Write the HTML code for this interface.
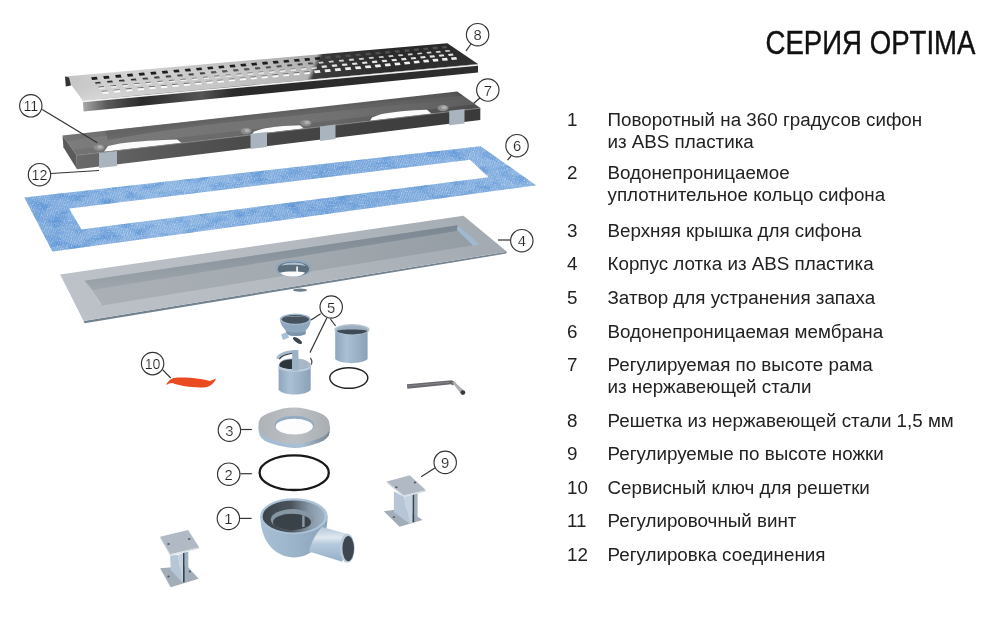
<!DOCTYPE html>
<html><head><meta charset="utf-8"><style>
html,body{margin:0;padding:0;background:#fff;width:1000px;height:625px;overflow:hidden}
svg{display:block;font-family:"Liberation Sans",sans-serif;will-change:transform}
</style></head><body>
<svg width="1000" height="625" viewBox="0 0 1000 625">
<rect width="1000" height="625" fill="#fff"/>
<defs>
<linearGradient id="gTop" x1="65" y1="0" x2="478" y2="0" gradientUnits="userSpaceOnUse" gradientTransform="translate(25.6,0) skewX(-23)">
 <stop offset="0" stop-color="#c4c4c4"/><stop offset="0.12" stop-color="#d4d4d4"/><stop offset="0.4" stop-color="#cacaca"/><stop offset="0.605" stop-color="#b8b8b8"/>
 <stop offset="0.618" stop-color="#3c3c3c"/><stop offset="0.8" stop-color="#2c2c2c"/><stop offset="1" stop-color="#333"/></linearGradient>
<linearGradient id="gTopV" x1="0" y1="45" x2="0" y2="100" gradientUnits="userSpaceOnUse">
 <stop offset="0" stop-color="#000" stop-opacity="0.12"/><stop offset="0.5" stop-color="#000" stop-opacity="0"/><stop offset="1" stop-color="#fff" stop-opacity="0.1"/></linearGradient>
<linearGradient id="gLip" x1="83" y1="0" x2="478" y2="0" gradientUnits="userSpaceOnUse">
 <stop offset="0" stop-color="#a8a8a8"/><stop offset="0.06" stop-color="#5a5a5a"/><stop offset="0.15" stop-color="#2a2a2a"/><stop offset="0.3" stop-color="#555"/><stop offset="0.38" stop-color="#2a2a2a"/><stop offset="1" stop-color="#2e2e2e"/></linearGradient>
<linearGradient id="gLipV" x1="0" y1="64" x2="0" y2="112" gradientUnits="userSpaceOnUse">
 <stop offset="0" stop-color="#fff" stop-opacity="0"/><stop offset="1" stop-color="#fff" stop-opacity="0.15"/></linearGradient>
<pattern id="pTex" width="2.2" height="2.2" patternUnits="userSpaceOnUse" patternTransform="rotate(20)">
 <rect width="2.2" height="2.2" fill="#9bc0e8"/><rect width="1" height="2.2" fill="#79a7da"/></pattern>
<linearGradient id="gMemOv" x1="24" y1="0" x2="536" y2="0" gradientUnits="userSpaceOnUse">
 <stop offset="0" stop-color="#5f8fd0" stop-opacity="0.25"/><stop offset="0.3" stop-color="#a9c6ea" stop-opacity="0.15"/><stop offset="0.6" stop-color="#5a8bcf" stop-opacity="0.25"/><stop offset="1" stop-color="#9dbde6" stop-opacity="0.2"/></linearGradient>
<linearGradient id="gFr" x1="62" y1="0" x2="480" y2="0" gradientUnits="userSpaceOnUse">
 <stop offset="0" stop-color="#747474"/><stop offset="0.3" stop-color="#6c6c6c"/><stop offset="0.65" stop-color="#666"/><stop offset="0.85" stop-color="#575757"/><stop offset="1" stop-color="#4c4c4c"/></linearGradient>
<linearGradient id="gFf" x1="77" y1="0" x2="480" y2="0" gradientUnits="userSpaceOnUse">
 <stop offset="0" stop-color="#6a6a6a"/><stop offset="0.25" stop-color="#555"/><stop offset="0.5" stop-color="#464646"/><stop offset="1" stop-color="#3a3a3a"/></linearGradient>
<linearGradient id="gBowl" x1="260" y1="0" x2="327" y2="0" gradientUnits="userSpaceOnUse">
 <stop offset="0" stop-color="#a9c0d6"/><stop offset="0.5" stop-color="#9bb4ca"/><stop offset="1" stop-color="#8aa3ba"/></linearGradient>
<linearGradient id="gPipe" x1="0" y1="527" x2="0" y2="562" gradientUnits="userSpaceOnUse">
 <stop offset="0" stop-color="#b3c7d9"/><stop offset="0.3" stop-color="#dfe8ef"/><stop offset="0.5" stop-color="#b4c9dc"/><stop offset="1" stop-color="#95afc6"/></linearGradient>
<linearGradient id="gCup" x1="0" y1="0" x2="1" y2="0">
 <stop offset="0" stop-color="#8ea7bd"/><stop offset="0.35" stop-color="#aac0d4"/><stop offset="1" stop-color="#8aa2b8"/></linearGradient>
<linearGradient id="gBack" x1="0" y1="0" x2="0.08" y2="1">
 <stop offset="0" stop-color="#76838f"/><stop offset="1" stop-color="#a0a7ad"/></linearGradient>
<filter id="fMem" x="0" y="0" width="1" height="1" color-interpolation-filters="sRGB">
 <feTurbulence type="fractalNoise" baseFrequency="0.06 0.12" numOctaves="3" seed="7" result="n"/>
 <feColorMatrix in="n" type="matrix" values="0 0 0 0 0  0 0 0 0 0  0 0 0 0 0  1.9 0 0 0 -0.85" result="a"/>
 <feComposite in="SourceGraphic" in2="a" operator="in"/>
</filter>
<filter id="fMem2" x="0" y="0" width="1" height="1" color-interpolation-filters="sRGB">
 <feTurbulence type="fractalNoise" baseFrequency="0.7" numOctaves="1" seed="3" result="n"/>
 <feColorMatrix in="n" type="matrix" values="0 0 0 0 0  0 0 0 0 0  0 0 0 0 0  2.4 0 0 0 -1.25" result="a"/>
 <feComposite in="SourceGraphic" in2="a" operator="in"/>
</filter>
<linearGradient id="gRim" x1="60" y1="0" x2="507" y2="0" gradientUnits="userSpaceOnUse">
 <stop offset="0" stop-color="#bcc2c7"/><stop offset="0.5" stop-color="#b4bac0"/><stop offset="1" stop-color="#a2a9b0"/></linearGradient>
<linearGradient id="gFloor" x1="85" y1="0" x2="480" y2="0" gradientUnits="userSpaceOnUse">
 <stop offset="0" stop-color="#aab0b5"/><stop offset="0.5" stop-color="#a3aab0"/><stop offset="1" stop-color="#959da4"/></linearGradient>
<linearGradient id="gRingSide" x1="258" y1="0" x2="331" y2="0" gradientUnits="userSpaceOnUse">
 <stop offset="0" stop-color="#a3bcd3"/><stop offset="0.6" stop-color="#a9bfd3"/><stop offset="1" stop-color="#75828e"/></linearGradient>
<linearGradient id="gRingTop" x1="258" y1="0" x2="331" y2="0" gradientUnits="userSpaceOnUse">
 <stop offset="0" stop-color="#aeb3b8"/><stop offset="0.5" stop-color="#bcc0c4"/><stop offset="1" stop-color="#a9aeb3"/></linearGradient>
<linearGradient id="gSiphIn" x1="263" y1="0" x2="325" y2="0" gradientUnits="userSpaceOnUse">
 <stop offset="0" stop-color="#3c444c"/><stop offset="0.45" stop-color="#4a535c"/><stop offset="0.75" stop-color="#8797a6"/><stop offset="1" stop-color="#9fb3c5"/></linearGradient>
</defs>
<polygon points="65.0,76.4 447.3,43.2 478.0,64.0 82.8,100.4" fill="url(#gTop)"/>
<polygon points="65.0,76.4 447.3,43.2 478.0,64.0 82.8,100.4" fill="url(#gTopV)"/>
<polygon points="82.8,100.4 478.0,64.0 478.0,72.5 83.6,111.6" fill="url(#gLip)"/>
<line x1="82.8" y1="101.4" x2="478" y2="65" stroke="#f2f2f2" stroke-width="1.6"/>
<polygon points="65.0,76.4 65.8,86.5 71.0,85.6 69.0,77.5" fill="#333"/>
<polygon points="91.2,77.2 96.8,76.7 97.7,79.5 92.1,80.0" fill="#1e1e1e"/>
<polygon points="95.0,82.2 100.1,81.7 101.0,83.7 95.9,84.2" fill="#2e2e2e"/>
<polygon points="95.6,83.5 100.8,83.0 101.0,83.7 95.9,84.2" fill="#9a9a9a"/>
<polygon points="98.3,86.5 103.9,86.1 104.8,88.5 99.2,88.9" fill="#f0f0f0"/>
<polygon points="98.3,86.5 103.9,86.1 104.2,87.0 98.6,87.4" fill="#666"/>
<polygon points="101.6,90.8 107.8,90.4 108.7,93.4 102.5,93.8" fill="#fafafa"/>
<polygon points="101.6,90.8 107.8,90.4 108.0,91.3 101.9,91.7" fill="#666"/>
<polygon points="103.2,76.1 108.8,75.7 109.7,78.4 104.1,78.9" fill="#1e1e1e"/>
<polygon points="106.9,81.1 112.1,80.6 113.0,82.6 107.8,83.1" fill="#2e2e2e"/>
<polygon points="107.5,82.4 112.7,81.9 113.0,82.6 107.8,83.1" fill="#9a9a9a"/>
<polygon points="110.3,85.4 115.8,85.0 116.7,87.4 111.2,87.8" fill="#f0f0f0"/>
<polygon points="110.3,85.4 115.8,85.0 116.1,85.9 110.6,86.3" fill="#666"/>
<polygon points="113.5,89.7 119.7,89.2 120.6,92.2 114.4,92.7" fill="#fafafa"/>
<polygon points="113.5,89.7 119.7,89.2 120.0,90.1 113.8,90.6" fill="#666"/>
<polygon points="115.1,75.1 120.6,74.6 121.5,77.4 116.0,77.8" fill="#1e1e1e"/>
<polygon points="118.8,80.0 124.0,79.5 124.9,81.5 119.7,82.0" fill="#2e2e2e"/>
<polygon points="119.4,81.3 124.6,80.8 124.9,81.5 119.7,82.0" fill="#9a9a9a"/>
<polygon points="122.1,84.3 127.7,83.9 128.6,86.3 123.0,86.7" fill="#f0f0f0"/>
<polygon points="122.1,84.3 127.7,83.9 128.0,84.8 122.4,85.2" fill="#666"/>
<polygon points="125.4,88.6 131.5,88.1 132.4,91.1 126.3,91.5" fill="#fafafa"/>
<polygon points="125.4,88.6 131.5,88.1 131.8,89.0 125.7,89.5" fill="#666"/>
<polygon points="126.9,74.0 132.4,73.6 133.3,76.3 127.8,76.8" fill="#1e1e1e"/>
<polygon points="130.6,78.9 135.7,78.5 136.6,80.4 131.5,80.9" fill="#2e2e2e"/>
<polygon points="131.2,80.2 136.3,79.7 136.6,80.4 131.5,80.9" fill="#9a9a9a"/>
<polygon points="133.9,83.2 139.5,82.8 140.4,85.1 134.8,85.6" fill="#f0f0f0"/>
<polygon points="133.9,83.2 139.5,82.8 139.8,83.7 134.2,84.1" fill="#666"/>
<polygon points="137.2,87.4 143.3,87.0 144.2,89.9 138.1,90.4" fill="#fafafa"/>
<polygon points="137.2,87.4 143.3,87.0 143.6,87.9 137.5,88.3" fill="#666"/>
<polygon points="138.6,73.0 144.1,72.5 145.0,75.3 139.5,75.7" fill="#1e1e1e"/>
<polygon points="142.3,77.9 147.4,77.4 148.3,79.4 143.2,79.8" fill="#2e2e2e"/>
<polygon points="142.9,79.1 148.0,78.7 148.3,79.4 143.2,79.8" fill="#9a9a9a"/>
<polygon points="145.6,82.1 151.1,81.7 152.0,84.0 146.5,84.5" fill="#f0f0f0"/>
<polygon points="145.6,82.1 151.1,81.7 151.4,82.6 145.9,83.0" fill="#666"/>
<polygon points="148.8,86.3 154.9,85.9 155.8,88.8 149.7,89.3" fill="#fafafa"/>
<polygon points="148.8,86.3 154.9,85.9 155.2,86.8 149.1,87.2" fill="#666"/>
<polygon points="150.3,72.0 155.7,71.5 156.6,74.2 151.2,74.7" fill="#1e1e1e"/>
<polygon points="154.0,76.8 159.0,76.3 159.9,78.3 154.9,78.8" fill="#2e2e2e"/>
<polygon points="154.6,78.1 159.6,77.6 159.9,78.3 154.9,78.8" fill="#9a9a9a"/>
<polygon points="157.3,81.1 162.7,80.6 163.6,83.0 158.2,83.4" fill="#f0f0f0"/>
<polygon points="157.3,81.1 162.7,80.6 163.0,81.5 157.6,82.0" fill="#666"/>
<polygon points="160.5,85.2 166.5,84.8 167.4,87.7 161.4,88.2" fill="#fafafa"/>
<polygon points="160.5,85.2 166.5,84.8 166.8,85.7 160.8,86.1" fill="#666"/>
<polygon points="161.8,70.9 167.3,70.5 168.2,73.2 162.7,73.7" fill="#1e1e1e"/>
<polygon points="165.5,75.7 170.6,75.3 171.5,77.2 166.4,77.7" fill="#2e2e2e"/>
<polygon points="166.1,77.0 171.2,76.5 171.5,77.2 166.4,77.7" fill="#9a9a9a"/>
<polygon points="168.8,80.0 174.2,79.5 175.1,81.9 169.7,82.3" fill="#f0f0f0"/>
<polygon points="168.8,80.0 174.2,79.5 174.5,80.4 169.1,80.9" fill="#666"/>
<polygon points="172.0,84.1 178.0,83.7 178.9,86.6 172.9,87.0" fill="#fafafa"/>
<polygon points="172.0,84.1 178.0,83.7 178.3,84.6 172.3,85.0" fill="#666"/>
<polygon points="173.3,69.9 178.7,69.5 179.6,72.2 174.2,72.6" fill="#1e1e1e"/>
<polygon points="177.0,74.7 182.0,74.3 182.9,76.2 177.9,76.6" fill="#2e2e2e"/>
<polygon points="177.6,75.9 182.6,75.5 182.9,76.2 177.9,76.6" fill="#9a9a9a"/>
<polygon points="180.2,78.9 185.7,78.5 186.6,80.8 181.1,81.2" fill="#f0f0f0"/>
<polygon points="180.2,78.9 185.7,78.5 186.0,79.4 180.5,79.8" fill="#666"/>
<polygon points="183.4,83.0 189.4,82.6 190.3,85.5 184.3,85.9" fill="#fafafa"/>
<polygon points="183.4,83.0 189.4,82.6 189.7,83.5 183.7,83.9" fill="#666"/>
<polygon points="184.7,68.9 190.1,68.5 191.0,71.2 185.6,71.6" fill="#1e1e1e"/>
<polygon points="188.3,73.7 193.3,73.2 194.2,75.2 189.2,75.6" fill="#2e2e2e"/>
<polygon points="188.9,74.9 193.9,74.5 194.2,75.2 189.2,75.6" fill="#9a9a9a"/>
<polygon points="191.6,77.9 197.0,77.4 197.9,79.7 192.5,80.2" fill="#f0f0f0"/>
<polygon points="191.6,77.9 197.0,77.4 197.3,78.3 191.9,78.8" fill="#666"/>
<polygon points="194.8,81.9 200.8,81.5 201.7,84.4 195.7,84.8" fill="#fafafa"/>
<polygon points="194.8,81.9 200.8,81.5 201.1,82.4 195.1,82.8" fill="#666"/>
<polygon points="196.0,67.9 201.3,67.5 202.2,70.1 196.9,70.6" fill="#1e1e1e"/>
<polygon points="199.6,72.6 204.6,72.2 205.5,74.1 200.5,74.6" fill="#2e2e2e"/>
<polygon points="200.2,73.9 205.2,73.4 205.5,74.1 200.5,74.6" fill="#9a9a9a"/>
<polygon points="202.9,76.8 208.3,76.4 209.2,78.7 203.8,79.1" fill="#f0f0f0"/>
<polygon points="202.9,76.8 208.3,76.4 208.6,77.3 203.2,77.7" fill="#666"/>
<polygon points="206.1,80.9 212.0,80.4 212.9,83.3 207.0,83.8" fill="#fafafa"/>
<polygon points="206.1,80.9 212.0,80.4 212.3,81.3 206.4,81.8" fill="#666"/>
<polygon points="207.2,66.9 212.5,66.5 213.4,69.1 208.1,69.6" fill="#1e1e1e"/>
<polygon points="210.8,71.6 215.8,71.2 216.7,73.1 211.7,73.5" fill="#2e2e2e"/>
<polygon points="211.4,72.8 216.4,72.4 216.7,73.1 211.7,73.5" fill="#9a9a9a"/>
<polygon points="214.1,75.8 219.4,75.3 220.3,77.6 215.0,78.1" fill="#f0f0f0"/>
<polygon points="214.1,75.8 219.4,75.3 219.7,76.2 214.4,76.7" fill="#666"/>
<polygon points="217.2,79.8 223.2,79.4 224.1,82.2 218.1,82.7" fill="#fafafa"/>
<polygon points="217.2,79.8 223.2,79.4 223.5,80.3 217.5,80.7" fill="#666"/>
<polygon points="218.3,65.9 223.6,65.5 224.5,68.1 219.2,68.6" fill="#1e1e1e"/>
<polygon points="221.9,70.6 226.9,70.2 227.8,72.1 222.8,72.5" fill="#2e2e2e"/>
<polygon points="222.5,71.8 227.5,71.4 227.8,72.1 222.8,72.5" fill="#9a9a9a"/>
<polygon points="225.2,74.7 230.5,74.3 231.4,76.6 226.1,77.0" fill="#f0f0f0"/>
<polygon points="225.2,74.7 230.5,74.3 230.8,75.2 225.5,75.6" fill="#666"/>
<polygon points="228.3,78.7 234.2,78.3 235.1,81.1 229.2,81.6" fill="#fafafa"/>
<polygon points="228.3,78.7 234.2,78.3 234.5,79.2 228.6,79.6" fill="#666"/>
<polygon points="229.4,65.0 234.7,64.5 235.6,67.2 230.3,67.6" fill="#1e1e1e"/>
<polygon points="233.0,69.6 237.9,69.2 238.8,71.1 233.9,71.5" fill="#2e2e2e"/>
<polygon points="233.6,70.8 238.5,70.4 238.8,71.1 233.9,71.5" fill="#9a9a9a"/>
<polygon points="236.2,73.7 241.5,73.3 242.4,75.5 237.1,76.0" fill="#f0f0f0"/>
<polygon points="236.2,73.7 241.5,73.3 241.8,74.2 236.5,74.6" fill="#666"/>
<polygon points="239.3,77.7 245.2,77.2 246.1,80.1 240.2,80.5" fill="#fafafa"/>
<polygon points="239.3,77.7 245.2,77.2 245.5,78.1 239.6,78.6" fill="#666"/>
<polygon points="240.3,64.0 245.6,63.5 246.5,66.2 241.2,66.6" fill="#1e1e1e"/>
<polygon points="243.9,68.6 248.8,68.2 249.7,70.1 244.8,70.5" fill="#2e2e2e"/>
<polygon points="244.5,69.8 249.4,69.4 249.7,70.1 244.8,70.5" fill="#9a9a9a"/>
<polygon points="247.1,72.7 252.4,72.2 253.3,74.5 248.0,74.9" fill="#f0f0f0"/>
<polygon points="247.1,72.7 252.4,72.2 252.7,73.1 247.4,73.6" fill="#666"/>
<polygon points="250.3,76.6 256.1,76.2 257.0,79.0 251.2,79.5" fill="#fafafa"/>
<polygon points="250.3,76.6 256.1,76.2 256.4,77.1 250.6,77.5" fill="#666"/>
<polygon points="251.2,63.0 256.4,62.6 257.3,65.2 252.1,65.7" fill="#1e1e1e"/>
<polygon points="254.8,67.6 259.7,67.2 260.6,69.1 255.7,69.5" fill="#2e2e2e"/>
<polygon points="255.4,68.8 260.3,68.4 260.6,69.1 255.7,69.5" fill="#9a9a9a"/>
<polygon points="258.0,71.7 263.2,71.2 264.1,73.5 258.9,73.9" fill="#f0f0f0"/>
<polygon points="258.0,71.7 263.2,71.2 263.5,72.1 258.3,72.6" fill="#666"/>
<polygon points="261.1,75.6 266.9,75.2 267.8,78.0 262.0,78.4" fill="#fafafa"/>
<polygon points="261.1,75.6 266.9,75.2 267.2,76.1 261.4,76.5" fill="#666"/>
<polygon points="262.0,62.1 267.2,61.6 268.1,64.2 262.9,64.7" fill="#1e1e1e"/>
<polygon points="265.6,66.7 270.4,66.2 271.3,68.1 266.5,68.5" fill="#2e2e2e"/>
<polygon points="266.2,67.8 271.0,67.4 271.3,68.1 266.5,68.5" fill="#9a9a9a"/>
<polygon points="268.8,70.7 274.0,70.2 274.9,72.5 269.7,72.9" fill="#f0f0f0"/>
<polygon points="268.8,70.7 274.0,70.2 274.3,71.1 269.1,71.6" fill="#666"/>
<polygon points="271.9,74.6 277.7,74.1 278.6,76.9 272.8,77.4" fill="#fafafa"/>
<polygon points="271.9,74.6 277.7,74.1 278.0,75.0 272.2,75.5" fill="#666"/>
<polygon points="272.7,61.1 277.9,60.7 278.8,63.3 273.6,63.7" fill="#1e1e1e"/>
<polygon points="276.3,65.7 281.1,65.2 282.0,67.1 277.2,67.5" fill="#2e2e2e"/>
<polygon points="276.9,66.8 281.7,66.4 282.0,67.1 277.2,67.5" fill="#9a9a9a"/>
<polygon points="279.4,69.7 284.6,69.2 285.5,71.4 280.3,71.9" fill="#f0f0f0"/>
<polygon points="279.4,69.7 284.6,69.2 284.9,70.1 279.7,70.6" fill="#666"/>
<polygon points="282.5,73.6 288.3,73.1 289.2,75.9 283.4,76.3" fill="#fafafa"/>
<polygon points="282.5,73.6 288.3,73.1 288.6,74.0 282.8,74.5" fill="#666"/>
<polygon points="283.3,60.2 288.5,59.8 289.4,62.3 284.2,62.8" fill="#1e1e1e"/>
<polygon points="286.9,64.7 291.7,64.3 292.6,66.1 287.8,66.6" fill="#2e2e2e"/>
<polygon points="287.5,65.9 292.3,65.4 292.6,66.1 287.8,66.6" fill="#9a9a9a"/>
<polygon points="290.0,68.7 295.2,68.2 296.1,70.4 290.9,70.9" fill="#f0f0f0"/>
<polygon points="290.0,68.7 295.2,68.2 295.5,69.1 290.3,69.6" fill="#666"/>
<polygon points="293.1,72.5 298.9,72.1 299.8,74.9 294.0,75.3" fill="#fafafa"/>
<polygon points="293.1,72.5 298.9,72.1 299.2,73.0 293.4,73.4" fill="#666"/>
<polygon points="293.8,59.3 299.0,58.8 299.9,61.4 294.7,61.8" fill="#1e1e1e"/>
<polygon points="297.4,63.8 302.2,63.3 303.1,65.1 298.3,65.6" fill="#2e2e2e"/>
<polygon points="298.0,64.9 302.8,64.4 303.1,65.1 298.3,65.6" fill="#9a9a9a"/>
<polygon points="300.6,67.7 305.7,67.2 306.6,69.4 301.5,69.9" fill="#f0f0f0"/>
<polygon points="300.6,67.7 305.7,67.2 306.0,68.1 300.9,68.6" fill="#666"/>
<polygon points="303.6,71.5 309.3,71.1 310.2,73.8 304.5,74.3" fill="#fafafa"/>
<polygon points="303.6,71.5 309.3,71.1 309.6,72.0 303.9,72.4" fill="#666"/>
<polygon points="304.3,58.3 309.4,57.9 310.3,60.5 305.2,60.9" fill="#1e1e1e"/>
<polygon points="307.8,62.8 312.6,62.4 313.5,64.2 308.7,64.6" fill="#2e2e2e"/>
<polygon points="308.4,63.9 313.2,63.5 313.5,64.2 308.7,64.6" fill="#9a9a9a"/>
<polygon points="311.0,66.7 316.1,66.3 317.0,68.5 311.9,68.9" fill="#f0f0f0"/>
<polygon points="311.0,66.7 316.1,66.3 316.4,67.2 311.3,67.6" fill="#666"/>
<polygon points="314.0,70.5 319.7,70.1 320.6,72.8 314.9,73.3" fill="#f0f0f0"/>
<polygon points="314.6,57.4 319.7,57.0 320.6,59.5 315.5,60.0" fill="#1e1e1e"/>
<polygon points="318.2,61.9 322.9,61.4 323.8,63.2 319.1,63.7" fill="#cfcfcf"/>
<polygon points="321.3,65.8 326.4,65.3 327.3,67.5 322.2,67.9" fill="#e4e4e4"/>
<polygon points="324.4,69.5 330.0,69.1 330.9,71.8 325.3,72.3" fill="#f0f0f0"/>
<polygon points="324.9,56.5 330.0,56.1 330.9,58.6 325.8,59.1" fill="#4e4e4e"/>
<polygon points="328.4,60.9 333.1,60.5 334.0,62.3 329.3,62.7" fill="#cfcfcf"/>
<polygon points="331.6,64.8 336.6,64.3 337.5,66.5 332.5,67.0" fill="#e4e4e4"/>
<polygon points="334.6,68.6 340.2,68.1 341.1,70.8 335.5,71.3" fill="#f0f0f0"/>
<polygon points="335.1,55.6 340.2,55.2 341.1,57.7 336.0,58.1" fill="#4e4e4e"/>
<polygon points="338.6,60.0 343.3,59.6 344.2,61.4 339.5,61.8" fill="#cfcfcf"/>
<polygon points="341.7,63.8 346.8,63.4 347.7,65.6 342.6,66.0" fill="#e4e4e4"/>
<polygon points="344.8,67.6 350.4,67.1 351.3,69.8 345.7,70.3" fill="#f0f0f0"/>
<polygon points="345.2,54.7 350.2,54.3 351.1,56.8 346.1,57.2" fill="#4e4e4e"/>
<polygon points="348.7,59.1 353.4,58.6 354.3,60.4 349.6,60.9" fill="#cfcfcf"/>
<polygon points="351.8,62.9 356.8,62.4 357.7,64.6 352.7,65.0" fill="#e4e4e4"/>
<polygon points="354.9,66.6 360.4,66.2 361.3,68.9 355.8,69.3" fill="#f0f0f0"/>
<polygon points="355.2,53.9 360.2,53.4 361.1,55.9 356.1,56.3" fill="#4e4e4e"/>
<polygon points="358.7,58.2 363.3,57.7 364.2,59.5 359.6,60.0" fill="#cfcfcf"/>
<polygon points="361.8,62.0 366.8,61.5 367.7,63.6 362.7,64.1" fill="#e4e4e4"/>
<polygon points="364.8,65.7 370.4,65.2 371.3,67.9 365.7,68.3" fill="#f0f0f0"/>
<polygon points="365.2,53.0 370.1,52.5 371.0,55.0 366.1,55.5" fill="#4e4e4e"/>
<polygon points="368.6,57.3 373.2,56.8 374.1,58.6 369.5,59.0" fill="#cfcfcf"/>
<polygon points="371.7,61.0 376.7,60.6 377.6,62.7 372.6,63.2" fill="#e4e4e4"/>
<polygon points="374.7,64.7 380.2,64.3 381.1,66.9 375.6,67.4" fill="#f0f0f0"/>
<polygon points="375.0,52.1 380.0,51.7 380.9,54.1 375.9,54.6" fill="#4e4e4e"/>
<polygon points="378.5,56.4 383.1,55.9 384.0,57.7 379.4,58.1" fill="#cfcfcf"/>
<polygon points="381.6,60.1 386.5,59.7 387.4,61.8 382.5,62.2" fill="#e4e4e4"/>
<polygon points="384.6,63.8 390.0,63.3 390.9,66.0 385.5,66.4" fill="#f0f0f0"/>
<polygon points="384.8,51.2 389.7,50.8 390.6,53.3 385.7,53.7" fill="#4e4e4e"/>
<polygon points="388.2,55.5 392.8,55.0 393.7,56.8 389.1,57.2" fill="#cfcfcf"/>
<polygon points="391.3,59.2 396.2,58.7 397.1,60.9 392.2,61.3" fill="#e4e4e4"/>
<polygon points="394.3,62.8 399.7,62.4 400.6,65.0 395.2,65.5" fill="#f0f0f0"/>
<polygon points="394.5,50.4 399.3,49.9 400.2,52.4 395.4,52.8" fill="#4e4e4e"/>
<polygon points="397.9,54.6 402.4,54.2 403.3,55.9 398.8,56.3" fill="#cfcfcf"/>
<polygon points="401.0,58.3 405.8,57.8 406.7,59.9 401.9,60.4" fill="#e4e4e4"/>
<polygon points="403.9,61.9 409.4,61.4 410.3,64.1 404.8,64.5" fill="#f0f0f0"/>
<polygon points="404.1,49.5 408.9,49.1 409.8,51.5 405.0,52.0" fill="#4e4e4e"/>
<polygon points="407.5,53.7 412.0,53.3 412.9,55.0 408.4,55.5" fill="#cfcfcf"/>
<polygon points="410.5,57.4 415.4,56.9 416.3,59.0 411.4,59.5" fill="#e4e4e4"/>
<polygon points="413.5,61.0 418.9,60.5 419.8,63.1 414.4,63.6" fill="#f0f0f0"/>
<polygon points="413.6,48.7 418.4,48.3 419.3,50.7 414.5,51.1" fill="#4e4e4e"/>
<polygon points="417.0,52.9 421.5,52.4 422.4,54.1 417.9,54.6" fill="#cfcfcf"/>
<polygon points="420.0,56.5 424.9,56.1 425.8,58.1 420.9,58.6" fill="#e4e4e4"/>
<polygon points="423.0,60.1 428.3,59.6 429.2,62.2 423.9,62.6" fill="#f0f0f0"/>
<polygon points="423.0,47.9 427.8,47.4 428.7,49.8 423.9,50.3" fill="#4e4e4e"/>
<polygon points="426.4,52.0 430.8,51.6 431.7,53.3 427.3,53.7" fill="#cfcfcf"/>
<polygon points="429.4,55.6 434.2,55.2 435.1,57.2 430.3,57.7" fill="#e4e4e4"/>
<polygon points="432.4,59.1 437.7,58.7 438.6,61.3 433.3,61.7" fill="#f0f0f0"/>
<polygon points="432.3,47.1 437.1,46.6 438.0,49.0 433.2,49.4" fill="#4e4e4e"/>
<polygon points="435.7,51.2 440.1,50.7 441.0,52.4 436.6,52.9" fill="#cfcfcf"/>
<polygon points="438.7,54.7 443.5,54.3 444.4,56.3 439.6,56.8" fill="#e4e4e4"/>
<polygon points="441.7,58.2 447.0,57.8 447.9,60.4 442.6,60.8" fill="#f0f0f0"/>
<polygon points="441.6,46.2 446.3,45.8 447.2,48.2 442.5,48.6" fill="#4e4e4e"/>
<polygon points="444.9,50.3 449.4,49.9 450.3,51.6 445.8,52.0" fill="#cfcfcf"/>
<polygon points="448.0,53.9 452.7,53.4 453.6,55.5 448.9,55.9" fill="#e4e4e4"/>
<polygon points="450.9,57.4 456.2,56.9 457.1,59.5 451.8,59.9" fill="#f0f0f0"/>
<polygon points="62.5,135.4 457.3,91.6 480.3,108.0 76.6,155.2" fill="url(#gFr)"/>
<path d="M70,150 L478,104 L462,96 C400,100 330,108 250,117 C180,125 120,134 66,141 Z" fill="#9a9a9a" opacity="0.22"/>
<path d="M105,131 L455,93 L462,99 C400,104 330,112 250,120 C190,126 140,134 108,140 Z" fill="#5c5c5c" opacity="0.6"/>
<polygon points="62.5,135.4 76.6,155.2 77.0,169.3 63.4,147.3" fill="#5a5a5a"/>
<path d="M104,151.8 L182,143.3 L177,139.6 C160,140 135,141.5 120,143.5 L108,146 Z" fill="#fbfbfb"/>
<path d="M252,134.6 L304,128.6 L300,125.2 C285,125.5 270,127 262,129 L254,131.5 Z" fill="#fbfbfb"/>
<path d="M370,121 L432,114 L427,109.8 C410,110 392,112 380,114.5 L372,117.5 Z" fill="#fbfbfb"/>
<polygon points="76.6,155.2 480.3,108.0 480.3,120.0 77.0,169.3" fill="url(#gFf)"/>
<line x1="76.6" y1="155.4" x2="480.3" y2="108.2" stroke="#858585" stroke-width="0.8"/>
<ellipse cx="99.0" cy="147.5" rx="5.5" ry="3.2" fill="#8c8c8c"/><ellipse cx="100.0" cy="147.0" rx="2.8" ry="1.8" fill="#b0b0b0"/>
<ellipse cx="246.0" cy="131.0" rx="5.5" ry="3.2" fill="#8c8c8c"/><ellipse cx="247.0" cy="130.5" rx="2.8" ry="1.8" fill="#b0b0b0"/>
<ellipse cx="306.0" cy="123.0" rx="5.5" ry="3.2" fill="#8c8c8c"/><ellipse cx="307.0" cy="122.5" rx="2.8" ry="1.8" fill="#b0b0b0"/>
<ellipse cx="443.0" cy="108.0" rx="5.5" ry="3.2" fill="#8c8c8c"/><ellipse cx="444.0" cy="107.5" rx="2.8" ry="1.8" fill="#b0b0b0"/>
<polygon points="99.0,153.0 117.0,150.9 117.0,165.9 99.0,168.0" fill="#aab4be"/>
<polygon points="250.5,134.0 267.0,132.1 267.0,147.1 250.5,149.0" fill="#aab4be"/>
<polygon points="320.0,126.4 335.5,124.6 335.5,139.1 320.0,140.9" fill="#aab4be"/>
<polygon points="449.2,110.7 464.5,108.9 464.5,123.4 449.2,125.2" fill="#aab4be"/>
<path d="M24.4,197.6 L480.6,146.2 L536.0,185.3 L52.4,251.6 Z M69.0,208.6 L470.0,159.7 L488.7,177.3 L81.5,229.4 Z" fill="url(#pTex)" fill-rule="evenodd"/>
<path d="M24.4,197.6 L480.6,146.2 L536.0,185.3 L52.4,251.6 Z M69.0,208.6 L470.0,159.7 L488.7,177.3 L81.5,229.4 Z" fill="url(#gMemOv)" fill-rule="evenodd"/>
<path d="M24.4,197.6 L480.6,146.2 L536.0,185.3 L52.4,251.6 Z M69.0,208.6 L470.0,159.7 L488.7,177.3 L81.5,229.4 Z" fill="#5590d4" fill-rule="evenodd" filter="url(#fMem)"/>
<path d="M24.4,197.6 L480.6,146.2 L536.0,185.3 L52.4,251.6 Z M69.0,208.6 L470.0,159.7 L488.7,177.3 L81.5,229.4 Z" fill="#c4dbf5" fill-rule="evenodd" filter="url(#fMem2)"/>
<polygon points="83.6,321.0 507.0,251.7 506.0,253.6 84.6,323.2" fill="#73828f"/>
<polygon points="60.1,274.6 463.5,215.7 507.0,251.7 83.6,321.0" fill="url(#gRim)"/>
<polygon points="84.7,280.7 457.9,225.2 479.8,244.2 98.7,305.9" fill="url(#gFloor)"/>
<polygon points="84.7,280.7 457.9,225.2 456.8,231.0 92.0,290.0" fill="url(#gBack)"/>
<polygon points="457.9,225.2 479.8,244.2 473.6,245.9 456.8,229.7" fill="#a0b9d0"/>
<polygon points="84.7,280.7 92.0,290.0 102.0,304.5 98.7,305.9" fill="#c0c3c6"/>
<ellipse cx="293.4" cy="268.4" rx="18" ry="8.6" fill="#8fa6bb"/>
<ellipse cx="293.4" cy="268.9" rx="15.6" ry="7.2" fill="#5d6e7d"/>
<path d="M280,272.8 C283.5,277.6 301,278.2 305,272.4 C302,271.8 298,271.6 292,271.6 C287,271.6 283,272 280,272.8 Z" fill="#fbfbfb"/>
<rect x="296.2" y="266.5" width="1.8" height="5.5" fill="#e8eef3"/>
<path d="M281,265.5 C286,261.5 302,261.5 306,266 C300,264.5 287,264.5 281,265.5 Z" fill="#aec3d5"/>
<ellipse cx="300" cy="290.2" rx="7" ry="1.6" fill="#6d7d8b"/>
<path d="M280,319.5 C280.5,326 285,329 286,331 L286,334 C290,336.5 302,336.5 305.5,334 L305.5,331 C307,329 310.5,326 310.8,319.5 Z" fill="#8ea7be"/>
<path d="M286,331 L286,334 C290,336.5 302,336.5 305.5,334 L305.5,331 C302,333 290,333 286,331 Z" fill="#7d95ab"/>
<ellipse cx="295.4" cy="319.2" rx="15.6" ry="5.6" fill="#a3bad0"/>
<ellipse cx="295.4" cy="319.3" rx="13.6" ry="4.4" fill="#46525d"/>
<path d="M283.5,317.5 C287,315.8 303,315.8 307,317.5 C303,316.9 288,316.9 283.5,317.5 Z" fill="#8e9eac"/>
<polygon points="281,334.5 286.5,332 289,337.5 283,340" fill="#a9c0d4"/>
<ellipse cx="297.5" cy="340.5" rx="5.2" ry="2.1" transform="rotate(35 297.5 340.5)" fill="#3c464f"/>
<path d="M278.6,366 L278.6,390 C284,396 305,396 310.7,390 L310.7,366 Z" fill="url(#gCup)"/>
<path d="M278.6,366 C279,360 285,358.5 294.5,358.5 C304,358.5 310.5,361 310.7,366 C306,369.5 284,369.5 278.6,366 Z" fill="#a9b8c5"/>
<path d="M279.2,365.5 C280,361 285,359.5 292,359.2 L292,369 C285,368.8 280.5,367.8 279.2,365.5 Z" fill="#2c343c"/>
<path d="M278.6,366 C284,370.5 305,370.5 310.7,366 L310.7,368.5 C305,373 284,373 278.6,368.5 Z" fill="#b9cbdb"/>
<path d="M276.2,358.5 C277.5,352.5 287,350 298,350 L298,352.6 C288,352.8 280.5,355 278.8,359 Z" fill="#a5bacc"/>
<path d="M278.8,359 C280.5,355 288,352.8 298,352.6 L298,353.6 C289,353.8 282,356 280,359.5 Z" fill="#3b444c"/>
<path d="M310.5,357.5 C313,359.5 313,363 311.5,365 L310.5,364.5 C311.5,362.5 311.5,360 309.8,358.5 Z" fill="#4a535b"/>
<rect x="292.2" y="350.3" width="6.2" height="20.2" fill="#9ab1c6"/>
<path d="M335.2,330 L335.2,359 C340,364.5 362.5,364.5 367.6,359 L367.6,330 Z" fill="url(#gCup)"/>
<ellipse cx="352" cy="329.6" rx="17.6" ry="5.6" fill="#b3c3d1"/>
<ellipse cx="352" cy="330" rx="15.6" ry="4.4" fill="#9eaebc"/>
<path d="M336.5,330.8 C338,333.5 348,334.4 352,334.4 C360,334.4 366,333 367.5,330.8 C362,329 342,329 336.5,330.8 Z" fill="#3d4b58"/>
<ellipse cx="348.8" cy="378" rx="19" ry="10.3" fill="none" stroke="#222" stroke-width="1.4"/>
<path d="M165.8,385 C168,381.5 170.5,378.8 173.5,378 C185,376.8 200,378.5 210,381 C212,380 214,379.2 216,378.4 C214.5,382.5 211,386 206,387.2 C195,388.2 180,386 172.5,383 C169.5,383.2 167.5,384.4 165.8,385 Z" fill="#eb4b20"/>
<path d="M407,384.3 L449,380.4 Q453,380 455.2,382.6 L453,385.6 Q451,383.9 449,384.4 L407.3,388.7 Z" fill="#68686e"/>
<line x1="408" y1="386.2" x2="449" y2="382.3" stroke="#8c8c91" stroke-width="0.8"/>
<polygon points="451.8,381.8 455.2,382.6 464.6,391.3 461.2,394" fill="#adadb1"/>
<circle cx="462.9" cy="392.6" r="2.4" fill="#3a3a3e"/>
<polygon points="329.6,429.8 329.6,432.6 328.8,435.4 326.9,438.1 323.7,440.4 319.5,442.4 315.0,444.0 310.3,445.5 305.3,446.8 299.8,447.7 294.1,448.0 288.4,447.6 283.0,446.6 278.0,445.4 273.1,444.1 268.4,442.5 264.4,440.5 261.4,438.0 259.7,435.3 258.9,432.6 258.6,429.8 258.6,427.0 259.4,424.2 261.3,421.5 264.5,419.2 268.7,417.2 273.2,415.6 277.9,414.1 282.9,412.8 288.4,411.9 294.1,411.6 299.8,412.0 305.2,413.0 310.2,414.2 315.1,415.5 319.8,417.1 323.8,419.1 326.8,421.6 328.5,424.3 329.3,427.0" fill="url(#gRingSide)"/>
<rect x="258.65" y="425.6" width="70.9" height="4.2" fill="url(#gRingSide)"/>
<polygon points="329.6,425.6 329.6,428.4 328.8,431.2 326.9,433.9 323.7,436.2 319.5,438.2 315.0,439.8 310.3,441.3 305.3,442.6 299.8,443.5 294.1,443.8 288.4,443.4 283.0,442.4 278.0,441.2 273.1,439.9 268.4,438.3 264.4,436.3 261.4,433.8 259.7,431.1 258.9,428.4 258.6,425.6 258.6,422.8 259.4,420.0 261.3,417.3 264.5,415.0 268.7,413.0 273.2,411.4 277.9,409.9 282.9,408.6 288.4,407.7 294.1,407.4 299.8,407.8 305.2,408.8 310.2,410.0 315.1,411.3 319.8,412.9 323.8,414.9 326.8,417.4 328.5,420.1 329.3,422.8" fill="url(#gRingTop)"/>
<ellipse cx="294.3" cy="425" rx="19.8" ry="9.35" fill="#93abc0"/>
<ellipse cx="294.3" cy="426.6" rx="18.6" ry="7.9" fill="#fdfdfd"/>
<ellipse cx="294.2" cy="472.7" rx="34.6" ry="17.3" fill="none" stroke="#181818" stroke-width="2.3"/>
<path d="M260.4,516 C260.6,546 279,557.4 294,557.4 C309,557.4 327.3,546 327.6,516 Z" fill="url(#gBowl)"/>
<ellipse cx="293.9" cy="516.2" rx="33.7" ry="18" fill="#adc3d8"/>
<ellipse cx="293.6" cy="516.4" rx="31" ry="16" fill="url(#gSiphIn)"/>
<ellipse cx="292.3" cy="519.6" rx="21.5" ry="10.5" fill="#8796a3"/>
<ellipse cx="292" cy="522" rx="19" ry="8.2" fill="#3a4249"/>
<rect x="302.2" y="515.5" width="2.4" height="11.5" fill="#8a99a6"/>
<path d="M309,551.5 C311,543 316,533 322,527 L348.6,534.2 L342.2,561.8 Z" fill="url(#gPipe)"/>
<ellipse cx="347.3" cy="548.2" rx="7.4" ry="14.4" fill="#b9cadb"/>
<ellipse cx="348.2" cy="548.6" rx="5.8" ry="12.6" fill="#3e474f"/>
<polygon points="383.8,511.3 405.0,508.5 422.7,520.0 399.6,526.7" fill="#a3adb8"/><ellipse cx="393.9" cy="517.1" rx="1.2" ry="0.9" fill="#4e5964"/><polygon points="414.2,494.0 417.6,492.8 417.6,519.5 414.2,522.0" fill="#9fb0c0"/><polygon points="393.9,491.2 404.0,496.8 409.7,523.8 393.9,512.3" fill="#b6c6d6"/><polygon points="404.0,496.8 412.6,494.5 412.6,522.5 409.7,523.8" fill="#c5d3e1"/><polygon points="412.6,494.5 414.2,494.0 414.2,522.0 412.6,522.5" fill="#36414c"/><polygon points="386.7,481.5 409.7,475.3 426.0,490.2 404.0,495.5" fill="#b1bac4"/><polygon points="404.0,495.5 426.0,490.2 426.0,491.5 404.0,497.0" fill="#d9e0e7"/><polygon points="386.7,481.5 404.0,495.5 404.0,497.0 386.7,482.7" fill="#c8d0d8"/><ellipse cx="396.3" cy="487.3" rx="1.3" ry="1" fill="#56616c"/><ellipse cx="415.0" cy="482.5" rx="1.3" ry="1" fill="#56616c"/>
<polygon points="160.1,568.2 187.0,565.9 198.7,578.8 170.7,587.2" fill="#a3adb8"/><ellipse cx="168.5" cy="576.5" rx="1.2" ry="0.9" fill="#4e5964"/><ellipse cx="189.8" cy="571.5" rx="1.2" ry="0.9" fill="#4e5964"/><polygon points="184.6,552.6 188.3,551.5 188.3,579.5 184.6,582.0" fill="#9fb0c0"/><polygon points="170.2,555.5 178.0,555.0 182.5,582.7 170.7,570.0" fill="#b6c6d6"/><polygon points="178.0,555.0 183.0,553.0 183.0,582.5 182.5,582.7" fill="#c5d3e1"/><polygon points="183.0,553.0 184.6,552.6 184.6,582.0 183.0,582.5" fill="#36414c"/><polygon points="160.1,536.8 188.1,530.1 199.3,547.4 170.2,554.2" fill="#b1bac4"/><polygon points="170.2,554.2 199.3,547.4 199.3,548.7 170.2,555.7" fill="#d9e0e7"/><polygon points="160.1,536.8 170.2,554.2 170.2,555.7 160.1,538.0" fill="#c8d0d8"/><ellipse cx="168.5" cy="544.1" rx="1.3" ry="1" fill="#56616c"/><ellipse cx="189.2" cy="539.0" rx="1.3" ry="1" fill="#56616c"/>
<circle cx="477.6" cy="34.7" r="11.2" fill="#fff" stroke="#333" stroke-width="1.15"/><text x="477.6" y="40.3" font-size="14.8" text-anchor="middle" fill="#222" stroke="#fff" stroke-width="0.2">8</text><line x1="466.0" y1="50.8" x2="471.0" y2="44.0" stroke="#333" stroke-width="1.2"/>
<circle cx="487.8" cy="90.0" r="11.2" fill="#fff" stroke="#333" stroke-width="1.15"/><text x="487.8" y="95.6" font-size="14.8" text-anchor="middle" fill="#222" stroke="#fff" stroke-width="0.2">7</text><line x1="473.5" y1="103.5" x2="480.2" y2="97.8" stroke="#333" stroke-width="1.2"/>
<circle cx="30.8" cy="105.8" r="11.2" fill="#fff" stroke="#333" stroke-width="1.15"/><text x="30.8" y="111.4" font-size="14.2" text-anchor="middle" fill="#222" stroke="#fff" stroke-width="0.2">11</text><line x1="42.2" y1="109.4" x2="97.3" y2="142.7" stroke="#333" stroke-width="1.2"/>
<circle cx="39.5" cy="174.7" r="11.2" fill="#fff" stroke="#333" stroke-width="1.15"/><text x="39.5" y="180.3" font-size="14.2" text-anchor="middle" fill="#222" stroke="#fff" stroke-width="0.2">12</text><line x1="50.8" y1="173.5" x2="99.0" y2="170.5" stroke="#333" stroke-width="1.2"/>
<circle cx="517.0" cy="145.7" r="11.2" fill="#fff" stroke="#333" stroke-width="1.15"/><text x="517.0" y="151.3" font-size="14.8" text-anchor="middle" fill="#222" stroke="#fff" stroke-width="0.2">6</text><line x1="507.6" y1="160.2" x2="511.0" y2="156.0" stroke="#333" stroke-width="1.2"/>
<circle cx="521.8" cy="240.7" r="11.2" fill="#fff" stroke="#333" stroke-width="1.15"/><text x="521.8" y="246.3" font-size="14.8" text-anchor="middle" fill="#222" stroke="#fff" stroke-width="0.2">4</text><line x1="498.0" y1="240.0" x2="510.1" y2="240.0" stroke="#333" stroke-width="1.2"/>
<circle cx="331.2" cy="307.0" r="11.2" fill="#fff" stroke="#333" stroke-width="1.15"/><text x="331.2" y="312.6" font-size="14.8" text-anchor="middle" fill="#222" stroke="#fff" stroke-width="0.2">5</text><line x1="320.7" y1="313.7" x2="311.0" y2="320.0" stroke="#333" stroke-width="1.2"/><line x1="326.8" y1="318.0" x2="310.0" y2="352.4" stroke="#333" stroke-width="1.2"/><line x1="330.4" y1="319.0" x2="335.6" y2="326.0" stroke="#333" stroke-width="1.2"/>
<circle cx="152.6" cy="363.6" r="11.2" fill="#fff" stroke="#333" stroke-width="1.15"/><text x="152.6" y="369.2" font-size="14.2" text-anchor="middle" fill="#222" stroke="#fff" stroke-width="0.2">10</text><line x1="162.5" y1="369.7" x2="170.7" y2="378.0" stroke="#333" stroke-width="1.2"/>
<circle cx="229.4" cy="430.2" r="11.2" fill="#fff" stroke="#333" stroke-width="1.15"/><text x="229.4" y="435.8" font-size="14.8" text-anchor="middle" fill="#222" stroke="#fff" stroke-width="0.2">3</text><line x1="241.1" y1="429.5" x2="251.8" y2="429.5" stroke="#333" stroke-width="1.2"/>
<circle cx="228.7" cy="474.2" r="11.2" fill="#fff" stroke="#333" stroke-width="1.15"/><text x="228.7" y="479.8" font-size="14.8" text-anchor="middle" fill="#222" stroke="#fff" stroke-width="0.2">2</text><line x1="240.4" y1="473.7" x2="251.8" y2="473.7" stroke="#333" stroke-width="1.2"/>
<circle cx="228.4" cy="518.4" r="11.2" fill="#fff" stroke="#333" stroke-width="1.15"/><text x="228.4" y="524.0" font-size="14.8" text-anchor="middle" fill="#222" stroke="#fff" stroke-width="0.2">1</text><line x1="240.1" y1="518.4" x2="251.6" y2="518.4" stroke="#333" stroke-width="1.2"/>
<circle cx="445.2" cy="462.4" r="11.2" fill="#fff" stroke="#333" stroke-width="1.15"/><text x="445.2" y="468.0" font-size="14.8" text-anchor="middle" fill="#222" stroke="#fff" stroke-width="0.2">9</text><line x1="434.8" y1="468.0" x2="421.2" y2="476.8" stroke="#333" stroke-width="1.2"/>
<text x="765.5" y="54" font-size="33" fill="#111" stroke="#111" stroke-width="0.45" textLength="210" lengthAdjust="spacingAndGlyphs">СЕРИЯ OPTIMA</text>
<text x="567" y="126.1" font-size="18.8" fill="#222">1</text>
<text x="607.5" y="126.1" font-size="18.8" fill="#222">Поворотный на 360 градусов сифон</text>
<text x="607.5" y="148.2" font-size="18.8" fill="#222">из ABS пластика</text>
<text x="567" y="178.7" font-size="18.8" fill="#222">2</text>
<text x="607.5" y="178.7" font-size="18.8" fill="#222">Водонепроницаемое</text>
<text x="607.5" y="200.5" font-size="18.8" fill="#222">уплотнительное кольцо сифона</text>
<text x="567" y="236.9" font-size="18.8" fill="#222">3</text>
<text x="607.5" y="236.9" font-size="18.8" fill="#222">Верхняя крышка для сифона</text>
<text x="567" y="269.7" font-size="18.8" fill="#222">4</text>
<text x="607.5" y="269.7" font-size="18.8" fill="#222">Корпус лотка из ABS пластика</text>
<text x="567" y="303.5" font-size="18.8" fill="#222">5</text>
<text x="607.5" y="303.5" font-size="18.8" fill="#222">Затвор для устранения запаха</text>
<text x="567" y="338.0" font-size="18.8" fill="#222">6</text>
<text x="607.5" y="338.0" font-size="18.8" fill="#222">Водонепроницаемая мембрана</text>
<text x="567" y="370.6" font-size="18.8" fill="#222">7</text>
<text x="607.5" y="370.6" font-size="18.8" fill="#222">Регулируемая по высоте рама</text>
<text x="607.5" y="392.8" font-size="18.8" fill="#222">из нержавеющей стали</text>
<text x="567" y="427.0" font-size="18.8" fill="#222">8</text>
<text x="607.5" y="427.0" font-size="18.8" fill="#222">Решетка из нержавеющей стали 1,5 мм</text>
<text x="567" y="460.4" font-size="18.8" fill="#222">9</text>
<text x="607.5" y="460.4" font-size="18.8" fill="#222">Регулируемые по высоте ножки</text>
<text x="567" y="494.0" font-size="18.8" fill="#222">10</text>
<text x="607.5" y="494.0" font-size="18.8" fill="#222">Сервисный ключ для решетки</text>
<text x="567" y="527.3" font-size="18.8" fill="#222">11</text>
<text x="607.5" y="527.3" font-size="18.8" fill="#222">Регулировочный винт</text>
<text x="567" y="560.5" font-size="18.8" fill="#222">12</text>
<text x="607.5" y="560.5" font-size="18.8" fill="#222">Регулировка соединения</text>
</svg></body></html>
